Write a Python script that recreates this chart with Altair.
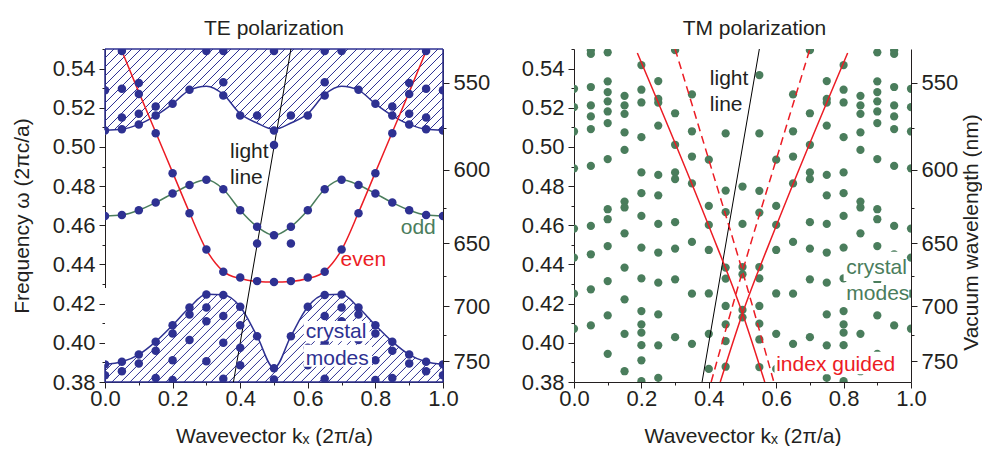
import altair as alt
import numpy as np
import pandas as pd

FONT = "Liberation Sans"
INK = "#231f20"
NAVY = "#2e3192"
GREEN = "#4a7d5c"
RED = "#ec1c24"

A_NM = 293.0                      # lattice constant (nm) for the wavelength axis
Y_MIN, Y_MAX = 0.38, 0.55
W_L, W_R, H = 338, 337, 333

Y_TICKS = [0.38, 0.39, 0.40, 0.41, 0.42, 0.43, 0.44, 0.45, 0.46, 0.47, 0.48,
           0.49, 0.50, 0.51, 0.52, 0.53, 0.54, 0.55]
X_TICKS = [0.0, 0.1, 0.2, 0.3, 0.4, 0.5, 0.6, 0.7, 0.8, 0.9, 1.0]
WL_TICKS = [550, 575, 600, 625, 650, 675, 700, 725, 750]

# ---------------- TE polarization ----------------
te_cols = {
    0.00: [0.529, 0.5084, 0.4648, 0.389, 0.3835],
    0.05: [0.549, 0.5297, 0.515, 0.509, 0.4653, 0.3903, 0.3855],
    0.10: [0.5326, 0.527, 0.517, 0.5115, 0.4677, 0.394, 0.3895],
    0.15: [0.5207, 0.516, 0.507, 0.4716, 0.4006, 0.396, 0.382],
    0.20: [0.522, 0.4866, 0.4762, 0.409, 0.4048, 0.3911, 0.381],
    0.25: [0.5292, 0.4806, 0.4661, 0.418, 0.4145, 0.4014],
    0.30: [0.549, 0.4832, 0.4477, 0.4247, 0.418, 0.411, 0.3906],
    0.35: [0.549, 0.533, 0.5263, 0.4784, 0.4363, 0.4244, 0.4137, 0.400, 0.3816],
    0.40: [0.516, 0.4677, 0.4333, 0.4184, 0.409, 0.3975, 0.3886],
    0.45: [0.516, 0.4593, 0.4507, 0.4315, 0.4034],
    0.50: [0.549, 0.5084, 0.501, 0.4549, 0.431, 0.387, 0.3813],
    0.55: [0.516, 0.4593, 0.4507, 0.4315, 0.4034],
    0.60: [0.516, 0.4677, 0.4333, 0.4184, 0.409, 0.3975, 0.3886],
    0.65: [0.549, 0.533, 0.5263, 0.4784, 0.4363, 0.4244, 0.4137, 0.400, 0.3816],
    0.70: [0.549, 0.4832, 0.4477, 0.4247, 0.418, 0.411, 0.3906],
    0.75: [0.5292, 0.4806, 0.4661, 0.418, 0.4145, 0.4014],
    0.80: [0.522, 0.4866, 0.4762, 0.409, 0.4048, 0.3911, 0.381],
    0.85: [0.5207, 0.516, 0.507, 0.4716, 0.4006, 0.396, 0.382],
    0.90: [0.5326, 0.527, 0.517, 0.5115, 0.4677, 0.394, 0.3895],
    0.95: [0.549, 0.5297, 0.515, 0.509, 0.4653, 0.3903, 0.3855],
    1.00: [0.529, 0.5084, 0.4648, 0.389, 0.3835],
}

band_x = [0.0, 0.05, 0.1, 0.15, 0.2, 0.25, 0.3, 0.35, 0.4, 0.45, 0.5,
          0.55, 0.6, 0.65, 0.7, 0.75, 0.8, 0.85, 0.9, 0.95, 1.0]
te_upper = [0.5085, 0.509, 0.5115, 0.516, 0.522, 0.529, 0.531, 0.5268, 0.517, 0.5122, 0.509,
            0.5122, 0.517, 0.5268, 0.531, 0.529, 0.522, 0.516, 0.5115, 0.509, 0.5085]
te_lower = [0.389, 0.3903, 0.394, 0.4006, 0.409, 0.418, 0.4248, 0.4245, 0.4184, 0.4034, 0.387,
            0.4034, 0.4184, 0.4245, 0.4248, 0.418, 0.409, 0.4006, 0.394, 0.3903, 0.389]
te_odd = [0.4648, 0.4653, 0.4677, 0.4716, 0.4762, 0.4806, 0.4832, 0.4784, 0.4677, 0.4593, 0.4549,
          0.4593, 0.4677, 0.4784, 0.4832, 0.4806, 0.4762, 0.4716, 0.4677, 0.4653, 0.4648]
even_x = [0.05, 0.1, 0.15, 0.2, 0.25, 0.3, 0.35, 0.4, 0.45, 0.5,
          0.55, 0.6, 0.65, 0.7, 0.75, 0.8, 0.85, 0.9, 0.95]
te_even = [0.549, 0.528, 0.5075, 0.487, 0.4665, 0.4475, 0.4365, 0.4328, 0.4313, 0.431,
           0.4313, 0.4328, 0.4365, 0.4475, 0.4665, 0.487, 0.5075, 0.528, 0.549]
light_x = [0.38, 0.55]
light_y = [0.38, 0.55]

# ---------------- TM polarization ----------------
tm_cols = {
    0.00: [0.5297, 0.5203, 0.5079, 0.4891, 0.4583, 0.4435, 0.4251, 0.4072],
    0.05: [0.5493, 0.5475, 0.5306, 0.5212, 0.5156, 0.5091, 0.4903, 0.4597, 0.4452, 0.4273, 0.4089],
    0.10: [0.5483, 0.5335, 0.528, 0.5233, 0.5181, 0.5122, 0.4938, 0.4682, 0.4631, 0.4494, 0.4315, 0.414, 0.3944],
    0.15: [0.5261, 0.5212, 0.5169, 0.5074, 0.4985, 0.4721, 0.4691, 0.4559, 0.4384, 0.4222, 0.4046, 0.3855],
    0.20: [0.5418, 0.5292, 0.5227, 0.505, 0.487, 0.4764, 0.4648, 0.4486, 0.4329, 0.4162, 0.4094, 0.4052, 0.3988, 0.3911, 0.3804],
    0.25: [0.5336, 0.5245, 0.5226, 0.5109, 0.4857, 0.4753, 0.4607, 0.4461, 0.4307, 0.4145, 0.3987, 0.3821],
    0.30: [0.5494, 0.5172, 0.5011, 0.487, 0.4836, 0.4616, 0.4481, 0.4324, 0.4029],
    0.35: [0.5268, 0.508, 0.4951, 0.4814, 0.4515, 0.4251, 0.3995],
    0.40: [0.4935, 0.4699, 0.4602, 0.4474, 0.4252, 0.4046, 0.3867],
    0.45: [0.5069, 0.4777, 0.4667, 0.4384, 0.4328, 0.4188, 0.4094, 0.4009, 0.3878],
    0.50: [0.4798, 0.4607, 0.4387, 0.435, 0.4168, 0.413],
    0.55: [0.5367, 0.5069, 0.4776, 0.4665, 0.4387, 0.4329, 0.4188, 0.4098, 0.4017, 0.3876],
    0.60: [0.4935, 0.4699, 0.4602, 0.4474, 0.4252, 0.4046, 0.3867],
    0.65: [0.5268, 0.508, 0.4951, 0.4814, 0.4515, 0.4251, 0.3995],
    0.70: [0.5494, 0.5172, 0.5011, 0.487, 0.4836, 0.4616, 0.4481, 0.4324, 0.4029],
    0.75: [0.5336, 0.5245, 0.5226, 0.5109, 0.4857, 0.4753, 0.4607, 0.4461, 0.4307, 0.4145, 0.3987, 0.3821],
    0.80: [0.5418, 0.5292, 0.5227, 0.505, 0.487, 0.4764, 0.4648, 0.4486, 0.4329, 0.4162, 0.4094, 0.4052, 0.3988, 0.3911, 0.3804],
    0.85: [0.5261, 0.5212, 0.5169, 0.5074, 0.4985, 0.4721, 0.4691, 0.4559, 0.4384, 0.4222, 0.4046, 0.3855],
    0.90: [0.5483, 0.5335, 0.528, 0.5233, 0.5181, 0.5122, 0.4938, 0.4682, 0.4631, 0.4494, 0.4315, 0.414, 0.3944],
    0.95: [0.5493, 0.5475, 0.5306, 0.5212, 0.5156, 0.5091, 0.4903, 0.4597, 0.4452, 0.4273, 0.4089],
    1.00: [0.5297, 0.5203, 0.5079, 0.4891, 0.4583, 0.4435, 0.4251, 0.4072],
}
# index-guided lines (solid / dashed), each as a short polyline
ig_solid_down_x = [0.188, 0.398, 0.5, 0.566]
ig_solid_down_y = [0.548, 0.4605, 0.415, 0.38]
ig_solid_up_x = [0.434, 0.5, 0.602, 0.812]
ig_solid_up_y = [0.38, 0.415, 0.4605, 0.548]
ig_dash_down_x = [0.3, 0.4, 0.5, 0.593]
ig_dash_down_y = [0.55, 0.4935, 0.4365, 0.38]
ig_dash_up_x = [0.407, 0.5, 0.6, 0.7]
ig_dash_up_y = [0.38, 0.4365, 0.4935, 0.55]

# labels
te_labels = pd.DataFrame({
    "text": ["light", "line", "odd", "even", "crystal", "modes"],
    "x": [0.37, 0.37, 0.875, 0.697, 0.594, 0.594],
    "y": [0.4941, 0.481, 0.4554, 0.4392, 0.4026, 0.3889],
    "c": [INK, INK, GREEN, RED, NAVY, NAVY],
})
te_boxes = pd.DataFrame({
    "x": [0.588, 0.588], "x2": [0.783, 0.790],
    "y": [0.4008, 0.3878], "y2": [0.4112, 0.3990],
})
tm_labels = pd.DataFrame({
    "text": ["light", "line", "crystal", "modes", "index guided"],
    "x": [0.403, 0.403, 0.808, 0.808, 0.60],
    "y": [0.5316, 0.5184, 0.4353, 0.4217, 0.3855],
    "c": [INK, INK, GREEN, GREEN, RED],
})
tm_boxes = pd.DataFrame({
    "x": [0.800, 0.800, 0.595], "x2": [0.965, 0.995, 0.965],
    "y": [0.4315, 0.4195, 0.3840], "y2": [0.4465, 0.4305, 0.3955],
})

# ---------------- helpers ----------------
def cols_to_df(cols):
    xs, ys = [], []
    for k, v in cols.items():
        xs += [k] * len(v)
        ys += v
    return pd.DataFrame({"x": xs, "y": ys})


K45 = (Y_MAX - Y_MIN) * W_L / H   # data-y per data-x of a 45 degree line


def hatch_df(y_lo, y_hi, step_px=9.0):
    span = (y_hi - y_lo) / K45
    step = step_px / W_L
    x0 = np.arange(-span, 1.0 + step, step)
    return pd.DataFrame({"x": x0, "x2": x0 + span, "y": y_lo, "y2": y_hi})


xscale = alt.Scale(domain=[0, 1], nice=False, zero=False)
yscale = alt.Scale(domain=[Y_MIN, Y_MAX], nice=False, zero=False)
XT = "Wavevector kₓ (2π/a)"


def x_axis():
    return alt.Axis(values=X_TICKS, title=XT, labelFlush=False, labelOverlap=False,
                    labelExpr="round(datum.value*10) % 2 == 0 ? format(datum.value, '.1f') : ''",
                    tickSize={"condition": {"test": "round(datum.value*10) % 2 == 0", "value": 6}, "value": 3},
                    labelPadding=0, titlePadding=16)


def y_axis(title):
    kw = dict(values=Y_TICKS, labelOverlap=False, labelFlush=False,
              labelExpr="round(datum.value*100) % 2 == 0 ? format(datum.value, '.2f') : ''",
              tickSize={"condition": {"test": "round(datum.value*100) % 2 == 0", "value": 6}, "value": 3},
              labelPadding=4, titlePadding=20)
    return alt.Axis(title=title, **kw)


def right_axis(title):
    vals = [A_NM / w for w in WL_TICKS]
    test = f"round({A_NM}/datum.value) % 50 == 0"
    return alt.Axis(orient="right", values=vals, title=title, labelOverlap=False, labelFlush=False,
                    labelExpr=f"{test} ? format(round({A_NM}/datum.value), 'd') : ''",
                    tickSize={"condition": {"test": test, "value": 6}, "value": 3},
                    labelPadding=4, titlePadding=3, titleAngle=270, titleBaseline="top", titleY=183)


def enc_xy(yax):
    return dict(x=alt.X("x:Q", scale=xscale, axis=x_axis()),
                y=alt.Y("y:Q", scale=yscale, axis=yax))


def line(df, color, yax, width=1.5, dash=None, interp="monotone"):
    kw = dict(color=color, strokeWidth=width, clip=True, interpolate=interp)
    if dash:
        kw["strokeDash"] = dash
    return alt.Chart(df).mark_line(**kw).encode(**enc_xy(yax))


def rules(df, color, yax, width=1.0, clip=True):
    return alt.Chart(df).mark_rule(color=color, strokeWidth=width, clip=clip).encode(
        **enc_xy(yax), x2="x2:Q", y2="y2:Q")


def boxes(df, yax):
    return alt.Chart(df).mark_rect(color="white").encode(**enc_xy(yax), x2="x2:Q", y2="y2:Q")


def labels(df, yax):
    return alt.Chart(df).mark_text(align="left", baseline="alphabetic", font=FONT, fontSize=21).encode(
        **enc_xy(yax), text="text:N", color=alt.Color("c:N", scale=None))


def right_layer(title):
    df = pd.DataFrame({"w": [Y_MIN, Y_MAX]})
    return alt.Chart(df).mark_point(opacity=0).encode(
        x=alt.value(0),
        y=alt.Y("w:Q", scale=yscale, axis=right_axis(title)))


# ---------------- TE panel ----------------
yL = y_axis("Frequency ω (2πc/a)")
up_df = pd.DataFrame({"x": band_x, "y": te_upper, "y2": 0.5065})
lo_df = pd.DataFrame({"x": band_x, "y": te_lower, "y2": 0.428})
edge_df = pd.DataFrame({
    "x": [0.0, 0.0, 1.0, 0.0, 0.0, 1.0], "x2": [1.0, 0.0, 1.0, 1.0, 0.0, 1.0],
    "y": [Y_MAX, te_upper[0], te_upper[-1], Y_MIN, Y_MIN, Y_MIN],
    "y2": [Y_MAX, Y_MAX, Y_MAX, Y_MIN, te_lower[0], te_lower[-1]],
})

te_layers = [
    rules(hatch_df(Y_MIN, 0.427), NAVY, yL, 1.0),
    rules(hatch_df(0.507, Y_MAX), NAVY, yL, 1.0),
    alt.Chart(up_df).mark_area(color="white", interpolate="monotone", clip=True).encode(**enc_xy(yL), y2="y2:Q"),
    alt.Chart(lo_df).mark_area(color="white", interpolate="monotone", clip=True).encode(**enc_xy(yL), y2="y2:Q"),
    line(pd.DataFrame({"x": band_x, "y": te_upper}), NAVY, yL, 1.5),
    line(pd.DataFrame({"x": band_x, "y": te_lower}), NAVY, yL, 1.5),
    rules(edge_df, NAVY, yL, 1.5, clip=False),
    line(pd.DataFrame({"x": band_x, "y": te_odd}), GREEN, yL, 1.5),
    line(pd.DataFrame({"x": even_x, "y": te_even}), RED, yL, 1.5),
    line(pd.DataFrame({"x": light_x, "y": light_y}), "black", yL, 1.0, interp="linear"),
    alt.Chart(cols_to_df(te_cols)).mark_circle(color=NAVY, size=72, opacity=1, clip=True).encode(**enc_xy(yL)),
    boxes(te_boxes, yL),
    labels(te_labels, yL),
]
te_panel = alt.layer(alt.layer(*te_layers), right_layer(None)).resolve_scale(y="independent").properties(
    width=W_L, height=H, title=alt.TitleParams("TE polarization"))

# ---------------- TM panel ----------------
yR = y_axis(None)
tm_layers = [
    alt.Chart(cols_to_df(tm_cols)).mark_circle(color=GREEN, size=68, opacity=1, clip=True).encode(**enc_xy(yR)),
    line(pd.DataFrame({"x": light_x, "y": light_y}), "black", yR, 1.0, interp="linear"),
    line(pd.DataFrame({"x": ig_solid_down_x, "y": ig_solid_down_y}), RED, yR, 1.5),
    line(pd.DataFrame({"x": ig_solid_up_x, "y": ig_solid_up_y}), RED, yR, 1.5),
    line(pd.DataFrame({"x": ig_dash_down_x, "y": ig_dash_down_y}), RED, yR, 1.5, dash=[8, 5]),
    line(pd.DataFrame({"x": ig_dash_up_x, "y": ig_dash_up_y}), RED, yR, 1.5, dash=[8, 5]),
    boxes(tm_boxes, yR),
    labels(tm_labels, yR),
]
tm_panel = alt.layer(alt.layer(*tm_layers), right_layer("Vacuum wavelength (nm)")).resolve_scale(
    y="independent").properties(width=W_R, height=H, title=alt.TitleParams("TM polarization", dx=12))

chart = alt.hconcat(te_panel, tm_panel, spacing=31).properties(
    padding={"left": 11, "top": 18, "right": 0, "bottom": 0}
).configure_view(stroke=None).configure_axis(
    labelFont=FONT, titleFont=FONT, labelFontSize=22, titleFontSize=21,
    labelColor=INK, titleColor=INK, domainColor=INK, tickColor=INK,
    titleFontWeight="normal", grid=False, domainWidth=1, tickWidth=1,
).configure_title(font=FONT, fontSize=21, fontWeight="normal", color=INK, offset=-1, anchor="middle")

chart.save("out.html", embed_options={"renderer": "svg", "actions": False})
